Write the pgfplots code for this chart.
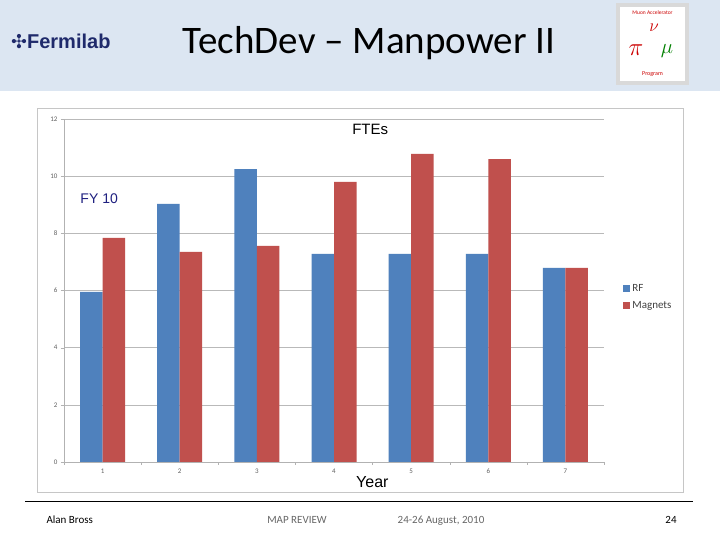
\documentclass[border=0pt]{standalone}
\usepackage{pgfplots}
\pgfplotsset{compat=1.18}
\usepackage{fontspec}
\setmainfont{Carlito}
\newfontfamily\arial{Liberation Sans}
\newfontfamily\dejavu{DejaVu Sans}
\definecolor{rfblue}{HTML}{4F81BD}
\definecolor{magred}{HTML}{C0504D}
\definecolor{headbg}{HTML}{DCE6F2}
\definecolor{navy}{HTML}{1F2A6B}
\definecolor{fyblue}{HTML}{1F2080}
\pgfplotstableread{
cat RF Magnets
1 5.95 7.84
2 9.03 7.35
3 10.25 7.56
4 7.28 9.80
5 7.28 10.78
6 7.28 10.60
7 6.79 6.79
}\fteData
\begin{document}
\begin{tikzpicture}[x=1pt,y=1pt]
% page
\fill[white] (0,0) rectangle (720,540);
% header band
\fill[headbg] (0,449) rectangle (720,540);
\node[anchor=west,text=navy,font=\arial\bfseries\fontsize{20}{23}\selectfont,inner sep=0pt] at (11,499) {{\dejavu\fontsize{19}{20}\selectfont ✣}Fermilab};
\node[font=\fontsize{39}{43}\selectfont] at (369,497) {TechDev – Manpower II};
% right logo
\fill[gray!30] (616,455) rectangle (689,537);
\fill[white] (620,459) rectangle (685,533);
\node[text=red!80!black,font=\fontsize{5.5}{6}\selectfont,inner sep=0pt] at (652.5,527) {Muon Accelerator};
\node[text=red!80!black,font=\fontsize{16}{16}\selectfont,inner sep=0pt] at (654,512) {$\nu$};
\node[text=red!80!black,font=\fontsize{24}{24}\selectfont,inner sep=0pt] at (636,490) {$\pi$};
\node[text=green!50!black,font=\fontsize{22}{22}\selectfont,inner sep=0pt] at (667,489) {$\mu$};
\node[text=red!80!black,font=\fontsize{6}{7}\selectfont,inner sep=0pt] at (652.5,466) {Program};
% chart frame
\draw[gray!45] (37,48) rectangle (683,432);
% axis
\begin{axis}[
  at={(64pt,78pt)}, anchor=south west,
  scale only axis, width=540pt, height=343pt,
  ybar=0pt, bar width=22.5pt,
  xmin=0.5, xmax=7.5, ymin=0, ymax=12,
  xtick={1,...,7},
  minor xtick={0.5,1.5,...,7.5},
  ytick={0,2,...,12},
  axis x line*=bottom, axis y line*=left,
  axis line style={gray!60},
  ymajorgrids, grid style={gray!55},
  major x tick style={draw=none},
  minor x tick style={gray!60},
  y tick style={gray!60},
  tick align=outside, major tick length=3pt, minor tick length=3pt,
  tick label style={font=\fontsize{7}{8}\selectfont, text=gray!75!black},
  /pgf/number format/assume math mode=true,
  enlarge x limits=false,
  legend style={at={(1.03,0.53)}, anchor=north west, draw=none, fill=none,
    font=\fontsize{11}{13}\selectfont, text=black!75, row sep=4pt},
  legend cell align=left,
  area legend,
  legend image code/.code={\fill[#1] (0pt,-3.5pt) rectangle (7pt,3.5pt);},
  clip=false,
]
\addplot[fill=rfblue, draw=none] table[x=cat,y=RF] {\fteData};
\addlegendentry{RF}
\addplot[fill=magred, draw=none] table[x=cat,y=Magnets] {\fteData};
\addlegendentry{Magnets}
\node[font=\arial\fontsize{15}{18}\selectfont] at (rel axis cs:0.567,0.97) {FTEs};
\node[anchor=west,font=\arial\fontsize{14}{17}\selectfont,text=fyblue] at (rel axis cs:0.024,0.767) {FY 10};
\node[font=\arial\fontsize{16}{19}\selectfont] at (rel axis cs:0.571,-0.058) {Year};
\end{axis}
% footer
\draw[black,line width=1pt] (25,38) -- (693,38);
\node[anchor=base west,font=\fontsize{11}{13}\selectfont] at (43,16) {Alan Bross};
\node[anchor=base,font=\fontsize{11}{13}\selectfont,text=gray!80!black] at (297,16) {MAP REVIEW};
\node[anchor=base,font=\fontsize{11}{13}\selectfont,text=gray!80!black] at (441,16) {24-26 August, 2010};
\node[anchor=base,font=\fontsize{11}{13}\selectfont] at (671,16) {24};
\end{tikzpicture}
\end{document}
